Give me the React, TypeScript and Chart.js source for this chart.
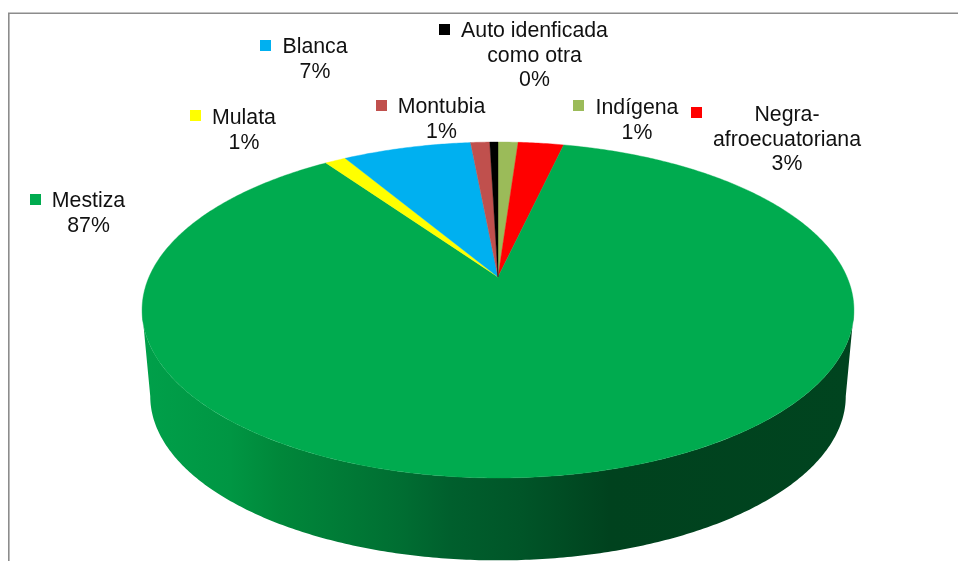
import React, { useEffect, useRef } from "react";
import { Chart, registerables } from "chart.js";

Chart.register(...registerables);

// Clockwise from 12 o'clock, as in the reference
const categories = ["Indígena", "Negra-afroecuatoriana", "Mestiza", "Mulata", "Blanca", "Montubia", "Auto idenficada como otra"];
const shares = [1.1, 2.5, 86.7, 1.15, 7.05, 1.05, 0.45];
const sliceColors = ["#9BBB59", "#FF0000", "#00AB4F", "#FFFF00", "#00B0F0", "#C0504D", "#000000"];
const labelLines = [
  ["Indígena", "1%"],
  ["Negra-", "afroecuatoriana", "3%"],
  ["Mestiza", "87%"],
  ["Mulata", "1%"],
  ["Blanca", "7%"],
  ["Montubia", "1%"],
  ["Auto idenficada", "como otra", "0%"],
];

// Label layout: marker x, marker y, text centre x, first baseline
const labelLayout = [
  [573, 100, 637, 114],
  [691, 107, 787, 121],
  [30, 194, 88.5, 207],
  [190, 110, 244, 124],
  [260, 40, 315, 53],
  [376, 100, 441.5, 113],
  [439, 24, 534.5, 37],
];
const LINE_HEIGHT = 24.6;

// Perspective projection of the pie's circular disc
const CX = 498;
const RX = 349;
const RY = 161.5;
const PERSP = 0.1965;
const TOP_Y = 277;
const BOTTOM_Y = 364;
const BOTTOM_SCALE = 0.977;

function project(angle: number, y0: number, k: number): [number, number] {
  const u = Math.cos(angle);
  const v = -Math.sin(angle);
  const s = 1 / (1 + PERSP * v);
  return [CX + RX * k * u * s, y0 - RY * k * v * s];
}

function traceArc(ctx: CanvasRenderingContext2D, from: number, to: number, y0: number, k: number, move: boolean) {
  const steps = Math.max(2, Math.ceil(Math.abs(to - from) / 0.01));
  for (let i = 0; i <= steps; i++) {
    const [x, y] = project(from + ((to - from) * i) / steps, y0, k);
    if (i === 0 && move) ctx.moveTo(x, y);
    else ctx.lineTo(x, y);
  }
}

const pie3d = {
  id: "pie3d",
  beforeDatasetDraw(chart: any) {
    const ctx: CanvasRenderingContext2D = chart.ctx;
    const arcs = chart.getDatasetMeta(0).data;

    // Chart frame
    ctx.save();
    ctx.strokeStyle = "#8C8C8C";
    ctx.lineWidth = 1.6;
    ctx.beginPath();
    ctx.moveTo(8.8, 561);
    ctx.lineTo(8.8, 13.3);
    ctx.lineTo(958, 13.3);
    ctx.stroke();

    // Side wall of the disc
    const tangent = Math.asin(PERSP);
    const wall = ctx.createLinearGradient(142, 0, 854, 0);
    wall.addColorStop(0, "#00A04A");
    wall.addColorStop(0.124, "#009643");
    wall.addColorStop(0.194, "#00873A");
    wall.addColorStop(0.264, "#007D37");
    wall.addColorStop(0.362, "#006E32");
    wall.addColorStop(0.433, "#005F2D");
    wall.addColorStop(0.531, "#005528");
    wall.addColorStop(0.657, "#00421E");
    wall.addColorStop(1, "#00441F");
    ctx.fillStyle = wall;
    ctx.beginPath();
    traceArc(ctx, tangent, Math.PI - tangent, TOP_Y, 1, true);
    traceArc(ctx, Math.PI - tangent, tangent, BOTTOM_Y, BOTTOM_SCALE, false);
    ctx.closePath();
    ctx.fill();

    // Top face: one wedge per library arc element
    for (const arc of arcs) {
      const { startAngle, endAngle } = arc.getProps(["startAngle", "endAngle"], true);
      ctx.beginPath();
      ctx.moveTo(CX, TOP_Y);
      traceArc(ctx, startAngle, endAngle, TOP_Y, 1, false);
      ctx.closePath();
      ctx.fillStyle = arc.options.backgroundColor;
      ctx.strokeStyle = arc.options.backgroundColor;
      ctx.lineWidth = 0.4;
      ctx.fill();
      ctx.stroke();
    }

    // Labels
    ctx.font = '21.3px "Liberation Sans", Arial, sans-serif';
    ctx.textAlign = "center";
    ctx.textBaseline = "alphabetic";
    labelLines.forEach((lines, i) => {
      const [mx, my, tx, ty] = labelLayout[i];
      ctx.fillStyle = sliceColors[i];
      ctx.fillRect(mx, my, 11, 11);
      ctx.fillStyle = "#111111";
      lines.forEach((line, j) => ctx.fillText(line, tx, ty + j * LINE_HEIGHT));
    });
    ctx.restore();
    return false;
  },
};

export default function App() {
  const ref = useRef<HTMLCanvasElement>(null);
  useEffect(() => {
    const chart = new Chart(ref.current!, {
      type: "pie",
      data: {
        labels: categories,
        datasets: [{ data: shares, backgroundColor: sliceColors, borderWidth: 0 }],
      },
      options: {
        animation: false,
        responsive: false,
        plugins: { legend: { display: false }, tooltip: { enabled: false } },
      },
      plugins: [pie3d],
    });
    return () => chart.destroy();
  }, []);
  return (
    <canvas
      ref={ref}
      width={958}
      height={561}
      style={{ position: "absolute", left: 0, top: 0, width: 958, height: 561, display: "block" }}
    />
  );
}
